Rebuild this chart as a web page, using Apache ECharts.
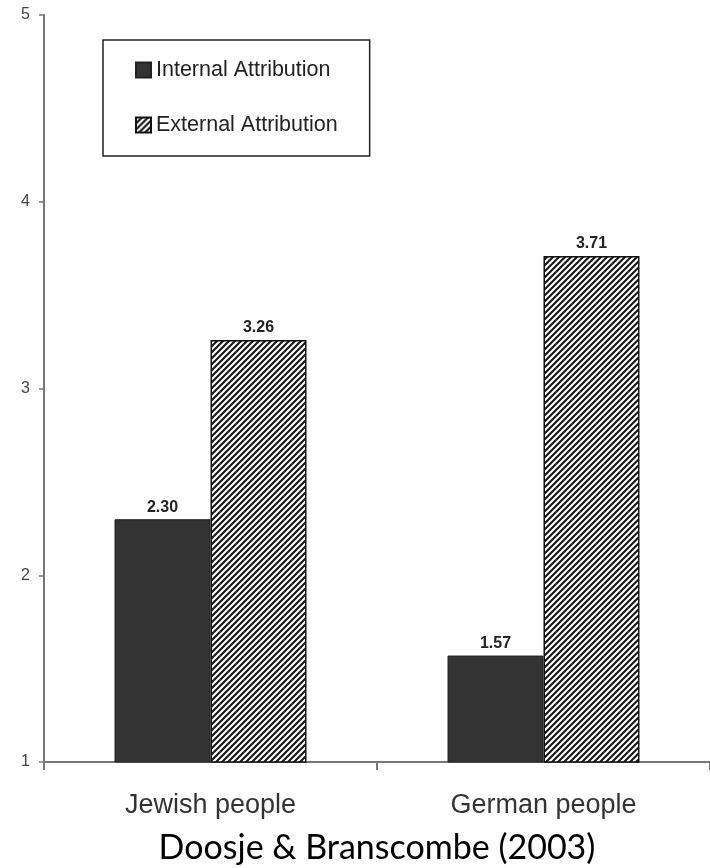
<!DOCTYPE html>
<html>
<head>
<meta charset="utf-8">
<script src="https://cdn.jsdelivr.net/npm/echarts@6/dist/echarts.min.js"></script>
<style>
html,body{margin:0;padding:0;background:#fff;}
#chart{width:710px;height:868px;}
</style>
</head>
<body>
<div id="chart"></div>
<script>
var categories = ['Jewish people', 'German people'];
var seriesNames = ['Internal Attribution', 'External Attribution'];
var internalValues = [2.30, 1.57];
var externalValues = [3.26, 3.71];
var yTicks = [1, 2, 3, 4, 5];
var caption = 'Doosje & Branscombe (2003)';

function hatchPattern() {
  var c = document.createElement('canvas');
  var s = 6;
  c.width = s; c.height = s;
  var g = c.getContext('2d');
  g.fillStyle = '#ffffff';
  g.fillRect(0, 0, s, s);
  g.strokeStyle = '#1a1a1a';
  g.lineWidth = 2.2;
  g.beginPath();
  g.moveTo(-1, s + 1); g.lineTo(s + 1, -1);
  g.moveTo(-1, 1); g.lineTo(1, -1);
  g.moveTo(s - 1, s + 1); g.lineTo(s + 1, s - 1);
  g.stroke();
  return c;
}

var chart = echarts.init(document.getElementById('chart'), null, {renderer: 'canvas'});
var font = 'Liberation Sans, Arial, sans-serif';
var option = {
  animation: false,
  backgroundColor: '#ffffff',
  grid: {left: 44, top: 15, width: 672, height: 747, containLabel: false},
  legend: {
    orient: 'vertical',
    left: 103,
    top: 40,
    padding: [18, 32, 19, 32],
    itemWidth: 15,
    itemHeight: 15,
    itemGap: 31,
    icon: 'rect',
    borderColor: '#222',
    borderWidth: 1.5,
    textStyle: {fontFamily: font, fontSize: 21.5, color: '#222', lineHeight: 24, padding: [0, 0, 0, 0]},
    data: seriesNames
  },
  xAxis: {
    type: 'category',
    data: categories,
    axisLine: {lineStyle: {color: '#777', width: 2}},
    axisTick: {show: true, length: 8, lineStyle: {color: '#777', width: 2}},
    axisLabel: {fontFamily: font, fontSize: 27, color: '#333', margin: 30}
  },
  yAxis: {
    type: 'value',
    min: yTicks[0],
    max: yTicks[yTicks.length - 1],
    interval: 1,
    splitLine: {show: false},
    axisLine: {show: true, lineStyle: {color: '#777', width: 2}},
    axisTick: {show: true, length: 5, lineStyle: {color: '#777', width: 1.5}},
    axisLabel: {fontFamily: font, fontSize: 16, color: '#444', margin: 14}
  },
  series: [
    {
      name: seriesNames[0],
      type: 'bar',
      data: internalValues,
      barWidth: 96,
      barGap: '0%',
      itemStyle: {color: '#333333', borderColor: '#222', borderWidth: 1},
      label: {show: true, position: 'top', distance: 4, fontFamily: font, fontSize: 16, fontWeight: 'bold', color: '#222',
        formatter: function (p) { return p.value.toFixed(2); }}
    },
    {
      name: seriesNames[1],
      type: 'bar',
      data: externalValues,
      barWidth: 96,
      barGap: '0%',
      itemStyle: {color: {image: hatchPattern(), repeat: 'repeat'}, borderColor: '#111', borderWidth: 1.5},
      label: {show: true, position: 'top', distance: 4, fontFamily: font, fontSize: 16, fontWeight: 'bold', color: '#222',
        formatter: function (p) { return p.value.toFixed(2); }}
    }
  ],
  graphic: [
    {
      type: 'text',
      x: 377,
      y: 848,
      style: {text: caption, fontFamily: 'Lato, Noto Sans, sans-serif', fontSize: 34, fill: '#000', align: 'center', verticalAlign: 'middle'}
    }
  ]
};
chart.setOption(option);
</script>
</body>
</html>
